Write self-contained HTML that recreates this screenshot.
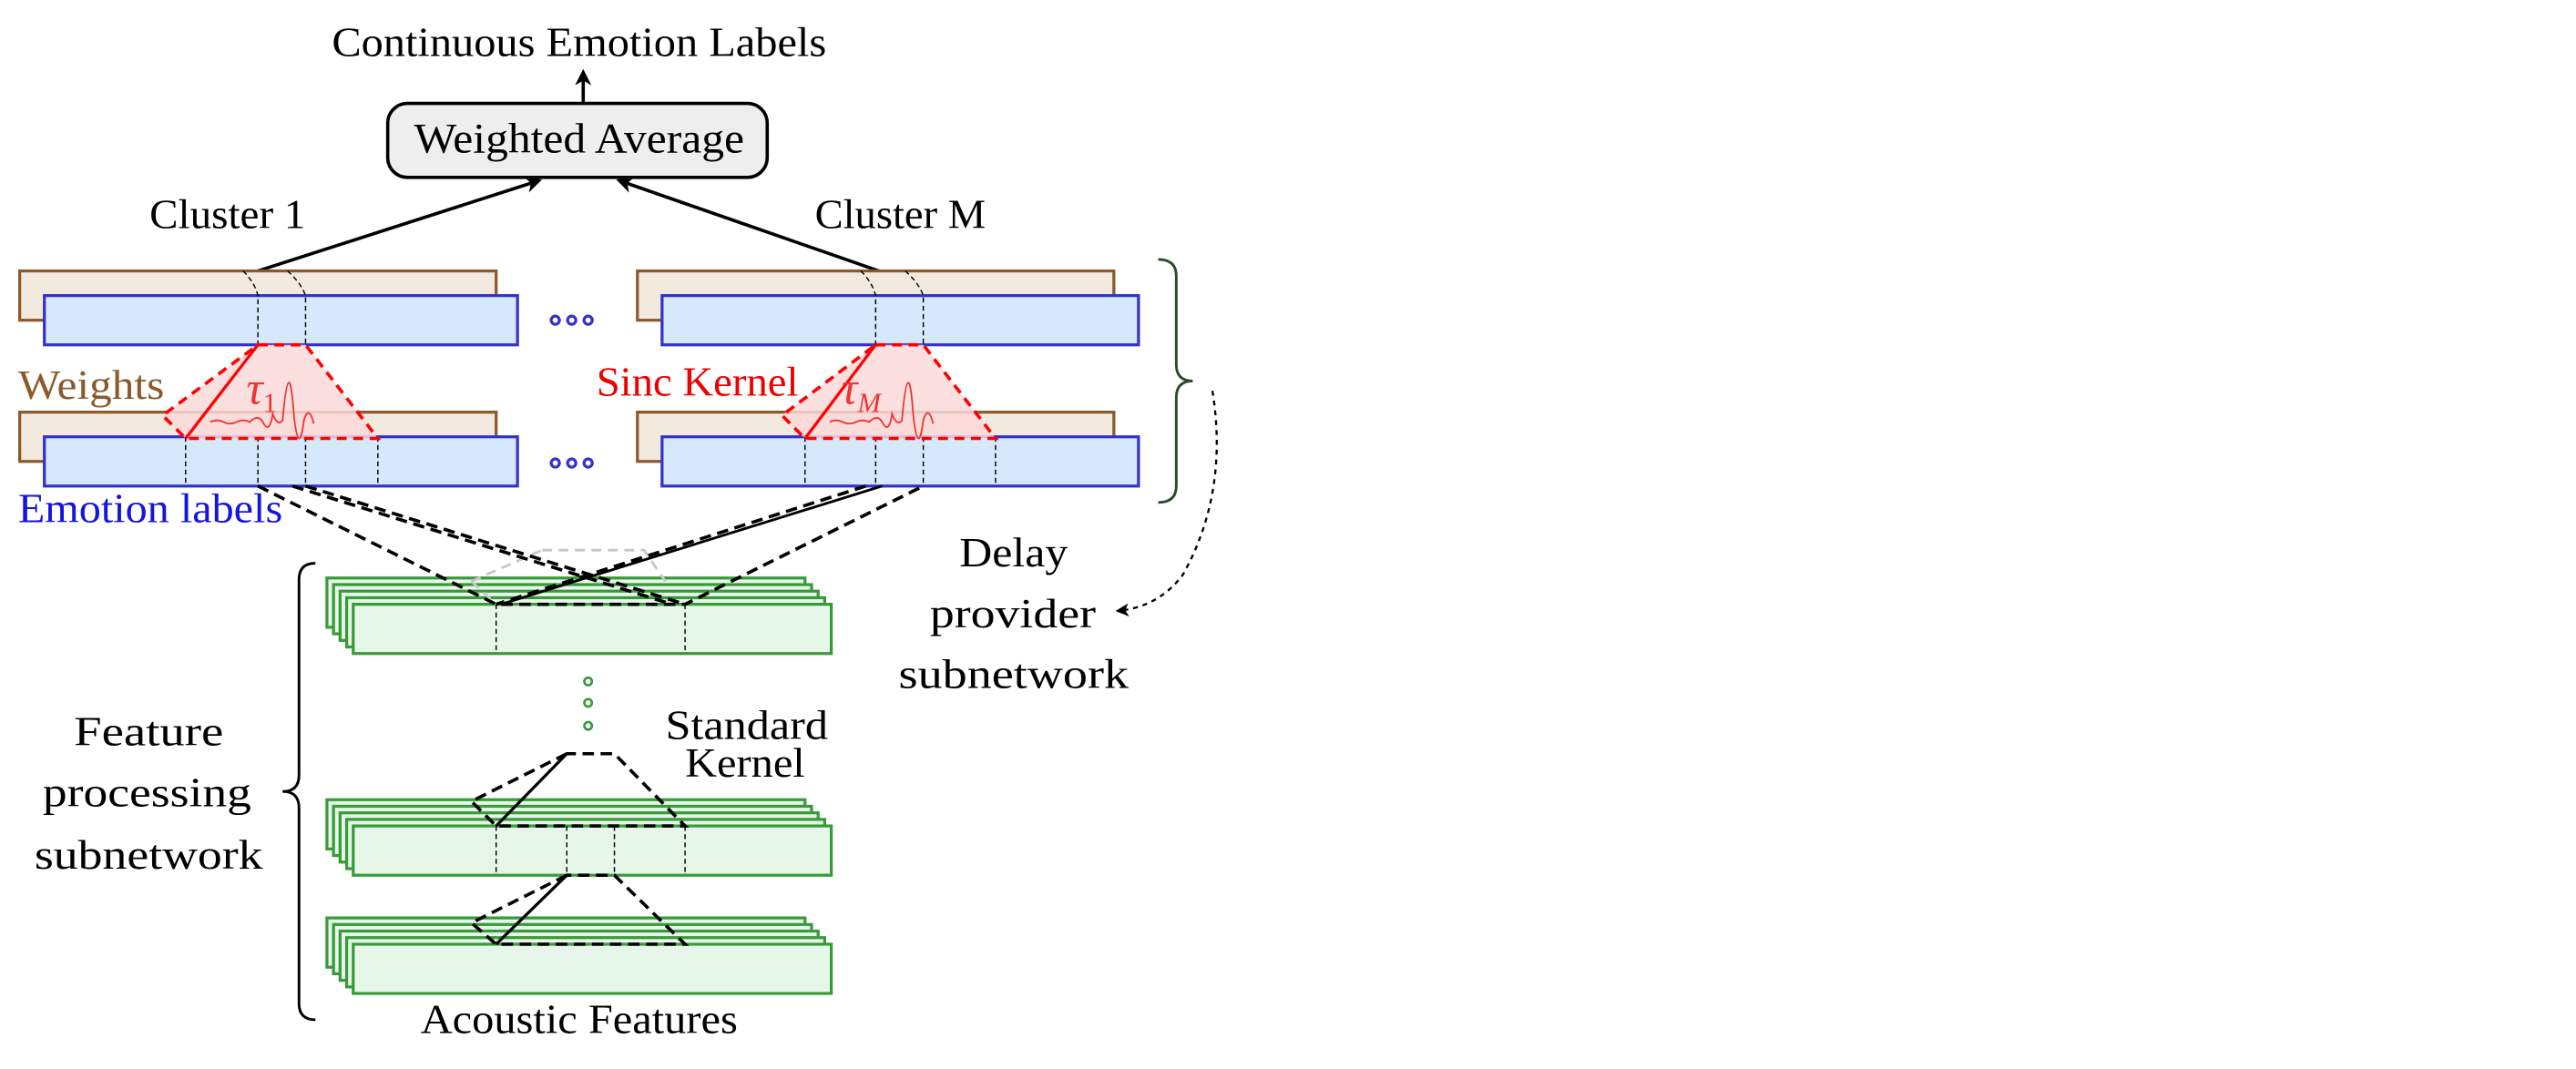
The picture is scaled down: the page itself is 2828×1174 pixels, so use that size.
<!DOCTYPE html>
<html><head><meta charset="utf-8"><style>html,body{margin:0;padding:0;background:#fff}svg{display:block}</style></head>
<body>
<svg width="2828" height="1174" viewBox="0 0 1568 651" preserveAspectRatio="none" xmlns="http://www.w3.org/2000/svg" font-family="Liberation Serif, serif">
<defs>
<marker id="ah" markerWidth="10" markerHeight="10" refX="8" refY="5" orient="auto" markerUnits="userSpaceOnUse"><path d="M0,0 L10,5 L0,10 L3,5z" fill="#000"/></marker>
<marker id="ah2" markerWidth="8" markerHeight="8" refX="7" refY="4" orient="auto" markerUnits="userSpaceOnUse"><path d="M0,0 L8,4 L0,8 L2,4z" fill="#000"/></marker>
</defs>
<g font-size="25" fill="#000" lengthAdjust="spacingAndGlyphs">
<text x="202" y="34" textLength="301" lengthAdjust="spacingAndGlyphs">Continuous Emotion Labels</text>
<line x1="355" y1="64" x2="355" y2="44" stroke="#000" stroke-width="2" marker-end="url(#ah)"/>
<rect x="236" y="63" width="231" height="45" rx="12" fill="#eee" stroke="#000" stroke-width="2"/>
<text x="252" y="93" textLength="201" lengthAdjust="spacingAndGlyphs" font-size="26">Weighted Average</text>
<line x1="157" y1="165" x2="328" y2="110" stroke="#000" stroke-width="2" marker-end="url(#ah)"/>
<line x1="535" y1="165" x2="377" y2="110" stroke="#000" stroke-width="2" marker-end="url(#ah)"/>
<text x="91" y="139" textLength="95" lengthAdjust="spacingAndGlyphs">Cluster 1</text>
<text x="496" y="139" textLength="104" lengthAdjust="spacingAndGlyphs">Cluster M</text>
</g>
<g stroke-width="1.8">
<rect x="12" y="165" width="290" height="30" fill="#f3eadf" stroke="#8b5a2b"/>
<rect x="27" y="180" width="288" height="30" fill="#d6e8fb" stroke="#3333cc"/>
<rect x="388" y="165" width="290" height="30" fill="#f3eadf" stroke="#8b5a2b"/>
<rect x="403" y="180" width="290" height="30" fill="#d6e8fb" stroke="#3333cc"/>
<rect x="12" y="251" width="290" height="30" fill="#f3eadf" stroke="#8b5a2b"/>
<rect x="27" y="266" width="288" height="30" fill="#d6e8fb" stroke="#3333cc"/>
<rect x="388" y="251" width="290" height="30" fill="#f3eadf" stroke="#8b5a2b"/>
<rect x="403" y="266" width="290" height="30" fill="#d6e8fb" stroke="#3333cc"/>
</g>
<g fill="none" stroke="#3333cc" stroke-width="1.8">
<circle cx="338" cy="195" r="2.5"/><circle cx="348" cy="195" r="2.5"/><circle cx="358" cy="195" r="2.5"/>
<circle cx="338" cy="282" r="2.5"/><circle cx="348" cy="282" r="2.5"/><circle cx="358" cy="282" r="2.5"/>
</g>
<g stroke="#000" stroke-width="0.8" stroke-dasharray="3,2" fill="none">
<path d="M148,165 Q155,172 157,180 V210 M175,165 Q183,172 186,180 V210"/>
<path d="M524,165 Q531,172 533,180 V210 M551,165 Q559,172 562,180 V210"/>
<path d="M113,266V296 M157,266V296 M186,266V296 M230,266V296"/>
<path d="M490,266V296 M533,266V296 M562,266V296 M606,266V296"/>
</g>
<g>
<path d="M157,210 L186,210 L230,267 L113,267 L99,253 Z" fill="#fbd9d9" fill-opacity="0.85" stroke="#f00" stroke-width="2" stroke-dasharray="6,4"/>
<line x1="157" y1="210" x2="113" y2="267" stroke="#f00" stroke-width="1.8"/>
<text x="150" y="246" fill="#e33" font-size="28" font-style="italic">τ<tspan font-size="17" dy="5" font-style="normal">1</tspan></text>
<path d="M128,257 q4,-2 8,0 q4,2 8,0 q4,-2 8,0 q5,-5 8,0 q4,8 6,-5 q3,8 6,4 q4,-45 7,-2 q3,25 6,2 q3,-10 6,2" fill="none" stroke="#e33" stroke-width="1"/>
<path d="M533,210 L562,210 L606,267 L490,267 L476,253 Z" fill="#fbd9d9" fill-opacity="0.85" stroke="#f00" stroke-width="2" stroke-dasharray="6,4"/>
<line x1="533" y1="210" x2="490" y2="267" stroke="#f00" stroke-width="1.8"/>
<text x="512" y="246" fill="#e33" font-size="28" font-style="italic">τ<tspan font-size="17" dy="5">M</tspan></text>
<path d="M505,257 q4,-2 8,0 q4,2 8,0 q4,-2 8,0 q5,-5 8,0 q4,8 6,-5 q3,8 6,4 q4,-45 7,-2 q3,25 6,2 q3,-10 6,2" fill="none" stroke="#e33" stroke-width="1"/>
</g>
<text x="11" y="243" fill="#8b5a2b" font-size="25" textLength="89" lengthAdjust="spacingAndGlyphs">Weights</text>
<text x="363" y="241" fill="#e00" font-size="25" textLength="123" lengthAdjust="spacingAndGlyphs">Sinc Kernel</text>
<text x="11" y="318" fill="#1515dd" font-size="25" textLength="161" lengthAdjust="spacingAndGlyphs">Emotion labels</text>
<g stroke="#3a9a3a" stroke-width="1.8" fill="#e6f7ea">
<rect x="199" y="352" width="291" height="30"/><rect x="203" y="356" width="291" height="30"/><rect x="207" y="360" width="291" height="30"/><rect x="211" y="364" width="291" height="30"/><rect x="215" y="368" width="291" height="30"/>
<rect x="199" y="487" width="291" height="30"/><rect x="203" y="491" width="291" height="30"/><rect x="207" y="495" width="291" height="30"/><rect x="211" y="499" width="291" height="30"/><rect x="215" y="503" width="291" height="30"/>
<rect x="199" y="559" width="291" height="30"/><rect x="203" y="563" width="291" height="30"/><rect x="207" y="567" width="291" height="30"/><rect x="211" y="571" width="291" height="30"/><rect x="215" y="575" width="291" height="30"/>
</g>
<g fill="none" stroke="#3a9a3a" stroke-width="1.5"><circle cx="358" cy="415" r="2.3"/><circle cx="358" cy="428" r="2.3"/><circle cx="358" cy="442" r="2.3"/></g>
<g stroke="#000" stroke-width="0.8" stroke-dasharray="3,2" fill="none">
<path d="M302,368V398 M417,368V398"/>
<path d="M302,503V533 M345,503V533 M374,503V533 M417,503V533"/>
</g>
<path d="M287,354 L302,368 M287,354 L330,335 M330,335 L392,335 L405,354" fill="none" stroke="#c8c8c8" stroke-width="1.6" stroke-dasharray="6,4"/>
<g fill="none" stroke="#000" stroke-width="2" stroke-dasharray="7,4">
<path d="M157,296 L302,368 L417,368 L562,296"/>
<path d="M186,296 L417,368 M178,296 L409,368"/>
<path d="M527,296 L302,368"/>
</g>
<path d="M537,296 L305,368" fill="none" stroke="#000" stroke-width="1.6"/>
<g fill="none" stroke="#000" stroke-width="2" stroke-dasharray="7,4">
<path d="M345,459 L287,488 L302,503 L417,503 L374,459 Z"/>
<path d="M345,533 L287,562 L302,575 L417,575 L374,533 Z"/>
</g>
<line x1="345" y1="459" x2="302" y2="503" stroke="#000" stroke-width="1.8"/>
<line x1="345" y1="533" x2="302" y2="575" stroke="#000" stroke-width="1.8"/>
<g font-size="25" fill="#000">
<text x="405" y="450" textLength="99" lengthAdjust="spacingAndGlyphs">Standard</text>
<text x="417" y="473" textLength="73" lengthAdjust="spacingAndGlyphs">Kernel</text>
<text x="256" y="629" textLength="193" lengthAdjust="spacingAndGlyphs">Acoustic Features</text>
<text x="45" y="454" textLength="91" lengthAdjust="spacingAndGlyphs">Feature</text>
<text x="26" y="491" textLength="127" lengthAdjust="spacingAndGlyphs">processing</text>
<text x="21" y="529" textLength="139" lengthAdjust="spacingAndGlyphs">subnetwork</text>
<text x="584" y="345" textLength="66" lengthAdjust="spacingAndGlyphs">Delay</text>
<text x="566" y="382" textLength="101" lengthAdjust="spacingAndGlyphs">provider</text>
<text x="547" y="419" textLength="140" lengthAdjust="spacingAndGlyphs">subnetwork</text>
</g>
<path d="M192,343 Q182,343 182,353 L182,472 Q182,482 172,482 Q182,482 182,492 L182,611 Q182,621 192,621" fill="none" stroke="#000" stroke-width="1.6"/>
<path d="M705,158 Q716,158 716,168 L716,222 Q716,232 726,232 Q716,232 716,242 L716,296 Q716,306 705,306" fill="none" stroke="#2d4a2d" stroke-width="1.6"/>
<path d="M738,238 Q748,300 720,350 Q705,370 680,372" fill="none" stroke="#000" stroke-width="1.3" stroke-dasharray="3,3" marker-end="url(#ah2)"/>
</svg>
</body></html>
